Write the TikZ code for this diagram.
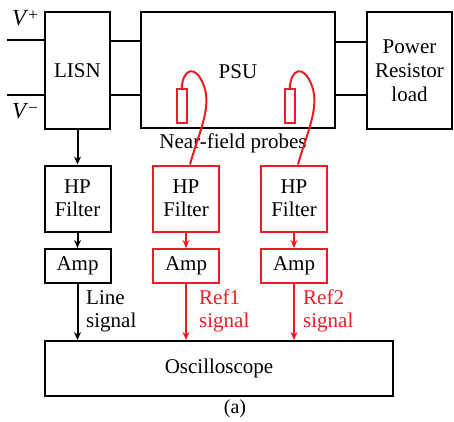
\documentclass[tikz,border=0pt]{standalone}
\usepackage{fontspec}
\setmainfont{Liberation Serif}
\usetikzlibrary{arrows.meta,calc}
\definecolor{myred}{RGB}{235,28,36}
\begin{document}
\begin{tikzpicture}[x=1pt,y=-1pt,
  box/.style={draw,line width=2pt,inner sep=0pt,align=center,font=\fontsize{21}{25}\selectfont},
  rbox/.style={box,draw=myred},
  arr/.style={line width=2pt,-{Stealth[length=8pt,width=7pt]}},
  wire/.style={line width=2pt},
  lbl/.style={font=\fontsize{21}{23}\selectfont,align=left,anchor=west,inner sep=0pt}]
\useasboundingbox (0,0) rectangle (454,421);
% top row
\node[box,minimum width=65pt,minimum height=117pt] (lisn) at (77.5,70.5) {LISN};
\node[box,minimum width=194pt,minimum height=116pt] (psu) at (238,70) {};
\node[font=\fontsize{21}{25}\selectfont] (psut) at (238,72) {PSU};
\node[box,minimum width=85pt,minimum height=117pt] (load) at (409.5,70.5) {Power\\[-1pt]Resistor\\[-1pt]load};
% supply inputs
\coordinate (vp) at (7,39.5);
\coordinate (vm) at (7,95);
\draw[wire] (vp) -- (lisn.west |- vp);
\draw[wire] (vm) -- (lisn.west |- vm);
\node[font=\fontsize{23}{26}\selectfont,inner sep=0pt] (vplbl) at (25,18) {\textit{V}\raisebox{0.5ex}{\fontsize{17}{18}\selectfont +}};
\node[font=\fontsize{23}{26}\selectfont,inner sep=0pt] (vmlbl) at (25,111) {\textit{V}\raisebox{0.5ex}{\fontsize{17}{18}\selectfont −}};
% links
\draw[wire] (lisn.east |- 0,41) -- (psu.west |- 0,41);
\draw[wire] (lisn.east |- 0,94.5) -- (psu.west |- 0,94.5);
\draw[wire] (psu.east |- 0,42) -- (load.west |- 0,42);
\draw[wire] (psu.east |- 0,95) -- (load.west |- 0,95);
% probes
\node[draw=myred,line width=1.8pt,minimum width=10pt,minimum height=34pt,inner sep=0pt] (p1) at (181.7,106) {};
\node[draw=myred,line width=1.8pt,minimum width=10pt,minimum height=34pt,inner sep=0pt] (p2) at (289.7,106) {};
\node[font=\fontsize{21}{25}\selectfont,inner sep=0pt] (nfp) at (233,143) {Near-field probes};
% filters
\node[box,minimum width=66pt,minimum height=66pt] (f1) at (77.5,198.5) {HP\\[-2pt]Filter};
\node[rbox,minimum width=66pt,minimum height=66pt] (f2) at (186,198.5) {HP\\[-2pt]Filter};
\node[rbox,minimum width=66pt,minimum height=66pt] (f3) at (294,198.5) {HP\\[-2pt]Filter};
% amps
\node[box,minimum width=66pt,minimum height=34pt] (a1) at (77.5,266) {Amp};
\node[rbox,minimum width=66pt,minimum height=34pt] (a2) at (186,266) {Amp};
\node[rbox,minimum width=66pt,minimum height=34pt] (a3) at (294,266) {Amp};
% oscilloscope
\node[box,minimum width=348pt,minimum height=55pt] (osc) at (219,368.5) {Oscilloscope};
\node[font=\fontsize{20}{24}\selectfont,inner sep=0pt] (cap) at (235,409) {(a)};
% probe wires
\draw[wire,myred] (p1.north) .. controls (183,68) and (196,64) .. (204,86) .. controls (212,108) and (198,135) .. ($(f2.north)+(4,0)$);
\draw[wire,myred] (p2.north) .. controls (291,68) and (304,64) .. (312,86) .. controls (320,108) and (306,135) .. ($(f3.north)+(4,0)$);
% arrows
\draw[arr] (lisn.south) -- (f1.north);
\draw[arr] (f1.south) -- (a1.north);
\draw[arr,myred] (f2.south) -- (a2.north);
\draw[arr,myred] (f3.south) -- (a3.north);
\draw[arr] (a1.south) -- (a1.south |- osc.north);
\draw[arr,myred] (a2.south) -- (a2.south |- osc.north);
\draw[arr,myred] (a3.south) -- (a3.south |- osc.north);
% labels
\node[lbl] (ls) at (86,311) {Line\\signal};
\node[lbl,text=myred] (r1) at (199,311) {Ref1\\signal};
\node[lbl,text=myred] (r2) at (303,311) {Ref2\\signal};
\end{tikzpicture}
\end{document}
